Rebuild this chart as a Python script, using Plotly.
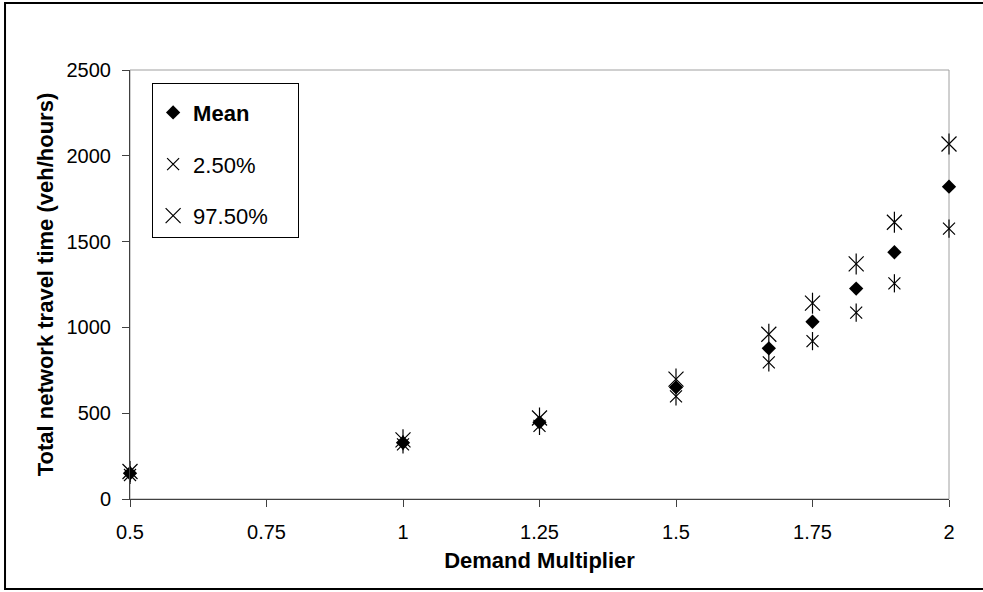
import plotly.graph_objects as go

demand = [0.5, 1, 1.25, 1.5, 1.67, 1.75, 1.83, 1.9, 2]
mean_vals = [150, 328, 447, 651, 878, 1033, 1226, 1438, 1820]
p025_vals = [140, 318, 426, 598, 796, 920, 1086, 1257, 1576]
p975_vals = [160, 345, 472, 699, 960, 1141, 1370, 1613, 2069]

x_ticks = [0.5, 0.75, 1, 1.25, 1.5, 1.75, 2]
x_tick_labels = ["0.5", "0.75", "1", "1.25", "1.5", "1.75", "2"]
y_ticks = [0, 500, 1000, 1500, 2000, 2500]

FONT = "Liberation Sans, Arial, sans-serif"

fig = go.Figure()

# vertical spokes of the asterisks (data only)
fig.add_trace(go.Scatter(x=demand, y=p025_vals, mode="markers", showlegend=False,
                         hoverinfo="skip", cliponaxis=False,
                         marker=dict(symbol="line-ns-open", size=13, color="black",
                                     line=dict(color="black", width=1.2))))
fig.add_trace(go.Scatter(x=demand, y=p975_vals, mode="markers", showlegend=False,
                         hoverinfo="skip", cliponaxis=False,
                         marker=dict(symbol="line-ns-open", size=15, color="black",
                                     line=dict(color="black", width=1.2))))

fig.add_trace(go.Scatter(x=demand, y=mean_vals, mode="markers", name="<b>Mean</b>",
                         legendgroup="a", cliponaxis=False,
                         marker=dict(symbol="diamond", size=11, color="black",
                                     line=dict(color="black", width=0))))
fig.add_trace(go.Scatter(x=demand, y=p025_vals, mode="markers", name="2.50%",
                         legendgroup="b", cliponaxis=False,
                         marker=dict(symbol="x-thin-open", size=12, color="black",
                                     line=dict(color="black", width=1.2))))
fig.add_trace(go.Scatter(x=demand, y=p975_vals, mode="markers",
                         name="97.50%\u00a0\u00a0\u00a0\u00a0",
                         legendgroup="c", cliponaxis=False,
                         marker=dict(symbol="x-thin-open", size=15, color="black",
                                     line=dict(color="black", width=1.2))))

fig.update_layout(
    width=983, height=592,
    margin=dict(l=130, r=34, t=70, b=93),
    paper_bgcolor="white", plot_bgcolor="white",
    font=dict(family=FONT, size=20, color="black"),
    showlegend=True,
    legend=dict(x=0.027, y=0.97, xanchor="left", yanchor="top",
                bordercolor="black", borderwidth=1, bgcolor="white",
                font=dict(family=FONT, size=22, color="black"),
                title=dict(text="\u00a0", font=dict(size=6)),
                tracegroupgap=20, itemwidth=30),
    xaxis=dict(range=[0.5, 2], tickvals=x_ticks, ticktext=x_tick_labels,
               showgrid=False, zeroline=False, showline=True,
               linecolor="#404040", linewidth=1, ticks="outside", ticklen=7,
               tickcolor="#404040", ticklabelstandoff=8,
               title=dict(text="<b>Demand Multiplier</b>", standoff=10,
                          font=dict(family=FONT, size=22))),
    yaxis=dict(range=[0, 2500], tickvals=y_ticks,
               showgrid=False, zeroline=False, showline=True,
               linecolor="#404040", linewidth=1, ticks="outside", ticklen=7,
               tickcolor="#404040", ticklabelstandoff=7,
               title=dict(text="<b>Total network travel time (veh/hours)</b>", standoff=6,
                          font=dict(family=FONT, size=22))),
    shapes=[
        dict(type="rect", xref="paper", yref="paper", x0=0, x1=1, y0=0, y1=1,
             line=dict(color="#a0a0a0", width=1), layer="below"),
        dict(type="rect", xref="paper", yref="paper", x0=-0.1526, x1=1.06,
             y0=-0.2098, y1=1.156, line=dict(color="black", width=2), layer="below"),
    ],
)

fig.write_html("out.html", config={"displayModeBar": False},
               post_script="document.body.style.margin='0';")
